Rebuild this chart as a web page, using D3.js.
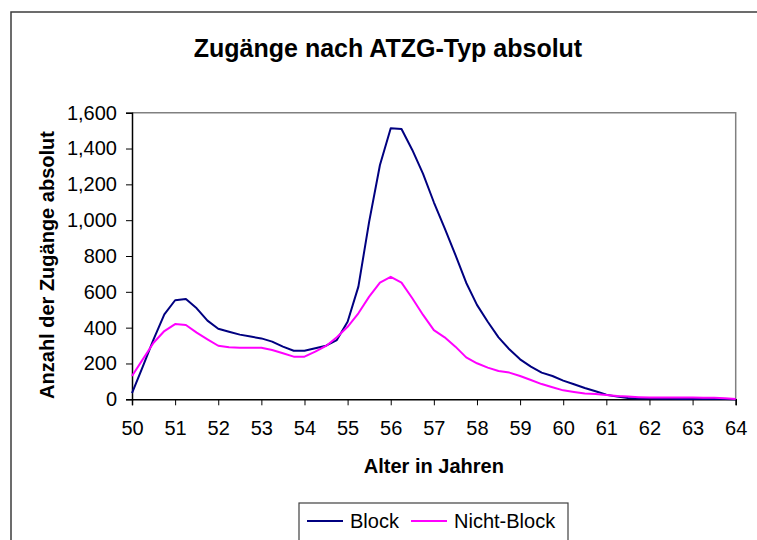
<!DOCTYPE html>
<html>
<head>
<meta charset="utf-8">
<script src="https://cdn.jsdelivr.net/npm/d3@7"></script>
<style>
  body { margin: 0; background: #fff; }
  svg { display: block; font-family: Arial, "Liberation Sans", sans-serif; }
</style>
</head>
<body>
<svg width="757" height="540"></svg>
<script>
	// ages, quarterly steps from 50 to 64
	const ages = d3.range(50, 64.001, 0.25);

	const blockValues = [
		35, 182, 335, 474, 553, 560, 508, 439,
		394, 377, 361, 350, 340, 322, 294, 271,
		271, 285, 299, 331, 433, 629, 992, 1308,
		1513, 1509, 1392, 1258, 1100, 955, 806, 651,
		527, 433, 346, 279, 223, 182, 149, 130,
		104, 84, 63, 45, 26, 15, 7, 5,
		4, 3, 3, 2, 2, 2, 1, 1,
		0
	];
	const nichtBlockValues = [
		130, 223, 316, 381, 420, 415, 372, 335,
		299, 290, 288, 288, 288, 275, 257, 238,
		238, 266, 298, 346, 405, 480, 573, 651,
		684, 651, 564, 471, 386, 346, 294, 234,
		201, 177, 158, 149, 130, 108, 85, 67,
		50, 41, 33, 30, 24, 18, 15, 12,
		10, 10, 10, 10, 10, 9, 8, 6,
		2
	];

	const seriesNames = ['Block', 'Nicht-Block'];
	const seriesColors = ['#000080', '#ff00ff'];
	const xTicks = d3.range(50, 65, 1);
	const yTicks = [0, 200, 400, 600, 800, 1000, 1200, 1400, 1600];

	const titleText = 'Zugänge nach ATZG-Typ absolut';
	const xTitle = 'Alter in Jahren';
	const yTitle = 'Anzahl der Zugänge absolut';

	const svg = d3.select('svg');

	// outer chart frame, runs off the right and bottom edge
	svg.append('rect')
		.attr('x', 11).attr('y', 12)
		.attr('width', 800).attr('height', 600)
		.attr('fill', 'none')
		.attr('stroke', '#3c3c3c')
		.attr('stroke-width', 1.5);

	const plot = { left: 132, top: 112.7, right: 735.7, bottom: 399.3 };

	const x = d3.scaleLinear().domain([50, 64]).range([plot.left, plot.right]);
	const y = d3.scaleLinear().domain([0, 1600]).range([plot.bottom, plot.top]);

	// gray top/right border of plot area
	svg.append('path')
		.attr('d', `M${plot.left},${plot.top}H${plot.right}V${plot.bottom}`)
		.attr('fill', 'none')
		.attr('stroke', '#808080')
		.attr('stroke-width', 1.5);

	const yAxis = svg.append('g')
		.attr('transform', `translate(${plot.left},0)`)
		.call(d3.axisLeft(y).tickValues(yTicks).tickFormat(d3.format(',')).tickSize(6).tickPadding(9));

	const xAxis = svg.append('g')
		.attr('transform', `translate(0,${plot.bottom})`)
		.call(d3.axisBottom(x).tickValues(xTicks).tickSize(6).tickPadding(16));

	[yAxis, xAxis].forEach(a => {
		a.select('.domain').attr('stroke', '#000').attr('stroke-width', 1.5);
		a.selectAll('.tick line').attr('stroke', '#000');
		a.selectAll('.tick text')
			.attr('fill', '#000')
			.style('font-size', '20px')
			.style('font-family', 'Arial, "Liberation Sans", sans-serif');
	});

	const line = d3.line()
		.x((d, i) => x(ages[i]))
		.y(d => y(d));

	[blockValues, nichtBlockValues].forEach((vals, k) => {
		svg.append('path')
			.datum(vals)
			.attr('d', line)
			.attr('fill', 'none')
			.attr('stroke', seriesColors[k])
			.attr('stroke-width', 2)
			.attr('stroke-linejoin', 'round');
	});

	svg.append('text')
		.attr('x', 388).attr('y', 57)
		.attr('text-anchor', 'middle')
		.style('font-size', '25px')
		.style('font-weight', 'bold')
		.text(titleText);

	svg.append('text')
		.attr('x', (plot.left + plot.right) / 2).attr('y', 473)
		.attr('text-anchor', 'middle')
		.style('font-size', '20px')
		.style('font-weight', 'bold')
		.text(xTitle);

	svg.append('text')
		.attr('transform', `translate(54,${(plot.top + plot.bottom) / 2 + 9}) rotate(-90)`)
		.attr('text-anchor', 'middle')
		.style('font-size', '20px')
		.style('font-weight', 'bold')
		.text(yTitle);

	// legend
	const legend = svg.append('g');
	legend.append('rect')
		.attr('x', 299).attr('y', 503)
		.attr('width', 269).attr('height', 60)
		.attr('fill', '#fff')
		.attr('stroke', '#404040')
		.attr('stroke-width', 1.2);

	const legendX = [307, 411];
	seriesNames.forEach((name, k) => {
		legend.append('line')
			.attr('x1', legendX[k]).attr('x2', legendX[k] + 36)
			.attr('y1', 521).attr('y2', 521)
			.attr('stroke', seriesColors[k])
			.attr('stroke-width', 2);
		legend.append('text')
			.attr('x', legendX[k] + 43).attr('y', 528)
			.style('font-size', '20px')
			.text(name);
	});
</script>
</body>
</html>
